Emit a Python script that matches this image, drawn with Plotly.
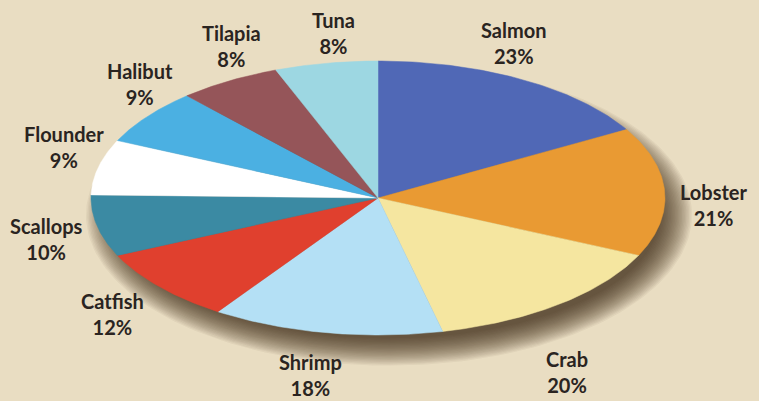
import numpy as np
import plotly.graph_objects as go

# Data
categories = ["Salmon", "Lobster", "Crab", "Shrimp", "Catfish",
              "Scallops", "Flounder", "Halibut", "Tilapia", "Tuna"]
values = [23, 21, 20, 18, 12, 10, 9, 9, 8, 8]
labels_pct = ["23%", "21%", "20%", "18%", "12%", "10%", "9%", "9%", "8%", "8%"]

# Styles
colors = ["#5068b6", "#e99a33", "#f5e6a0", "#b4e0f5", "#e0402e",
          "#3b8aa3", "#ffffff", "#4bb0e2", "#955559", "#9dd7e2"]
bg = "#e9ddc2"
cx, cy, rx, ry = 378, 198, 287, 137
label_pos = [(513, 43), (714, 205), (567, 372), (310, 375), (112, 314),
             (46, 239), (64, 147), (140, 84), (231, 46), (333, 33)]

fig = go.Figure()

# Shadow (layered soft ellipse offset to lower right)
t = np.linspace(0, 2 * np.pi, 240)
n_layers = 24
for i in range(n_layers):
    grow = 16 - i * 1.4
    fig.add_trace(go.Scatter(
        x=cx + 11 + (rx + grow) * np.sin(t),
        y=cy + 17 + (ry + grow * 0.85) * np.cos(t),
        fill="toself", mode="lines", line=dict(width=0),
        fillcolor="rgba(50,38,24,0.052)", hoverinfo="skip", showlegend=False))

total = sum(values)
start = 0.0
for name, v, c in zip(categories, values, colors):
    a0 = start / total * 2 * np.pi
    a1 = (start + v) / total * 2 * np.pi
    th = np.linspace(a0, a1, 80)
    xs = np.concatenate([[cx], cx + rx * np.sin(th), [cx]])
    ys = np.concatenate([[cy], cy - ry * np.cos(th), [cy]])
    fig.add_trace(go.Scatter(x=xs, y=ys, fill="toself", mode="lines",
                             line=dict(width=0.5, color=c), fillcolor=c,
                             hoverinfo="skip", showlegend=False, name=name))
    start += v

for name, pct, (lx, ly) in zip(categories, labels_pct, label_pos):
    fig.add_annotation(x=lx, y=ly, text=f"<b>{name}<br>{pct}</b>", showarrow=False,
                       font=dict(family="Lato", size=20, color="#2a2421"),
                       xanchor="center", yanchor="middle", align="center")

fig.update_layout(
    width=759, height=401, margin=dict(l=0, r=0, t=0, b=0),
    paper_bgcolor=bg, plot_bgcolor=bg,
    xaxis=dict(range=[0, 759], visible=False, fixedrange=True),
    yaxis=dict(range=[401, 0], visible=False, fixedrange=True),
)
fig.write_html("out.html")
